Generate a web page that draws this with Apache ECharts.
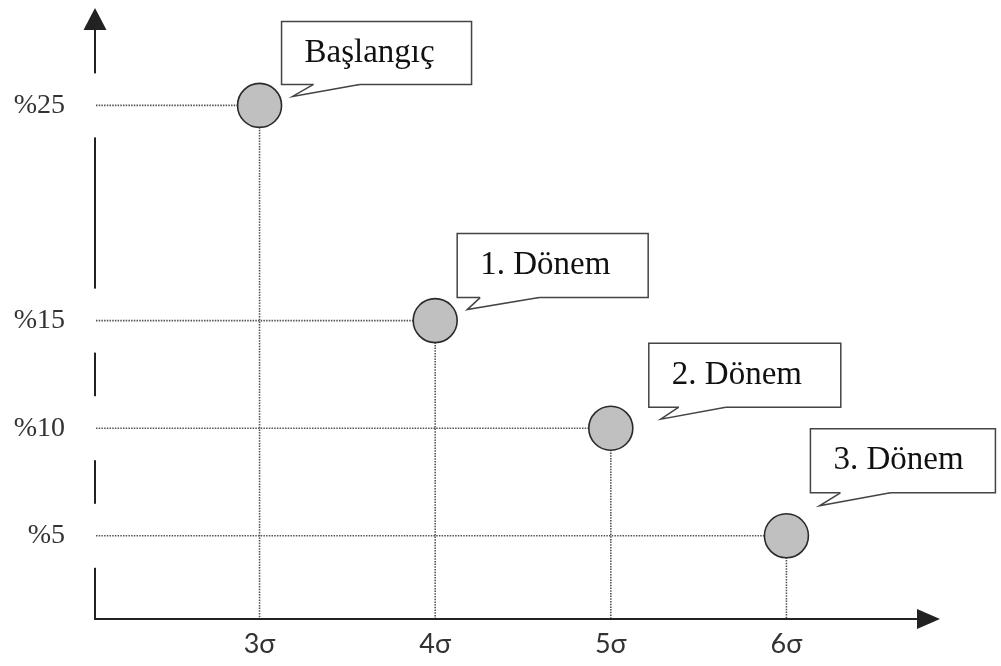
<!DOCTYPE html>
<html><head><meta charset="utf-8">
<script src="https://cdn.jsdelivr.net/npm/echarts@6/dist/echarts.min.js"></script>
<style>html,body{margin:0;padding:0;background:#fff}#c{width:1001px;height:666px}</style>
</head><body><div id="c"></div>
<script>
// ---- data ----
const sigmaLevels = [3, 4, 5, 6];
const xTickLabels = ['3σ', '4σ', '5σ', '6σ'];
const defectRates = [25, 15, 10, 5];
const yTickValues = [5, 10, 15, 25];
const phaseNames = ['Başlangıç', '1. Dönem', '2. Dönem', '3. Dönem'];

// ---- layout / style (pixel offsets of each callout relative to its point) ----
const calloutLayout = [
  {bx: 22, by: -84, w: 190, h: 63, tx: 33, ty: -9, b1: 32, b2: 78},
  {bx: 22, by: -87, w: 191, h: 64, tx: 32, ty: -11, b1: 23, b2: 82},
  {bx: 38, by: -85, w: 192, h: 64, tx: 50, ty: -9, b1: 30, b2: 77},
  {bx: 24, by: -107, w: 185, h: 64, tx: 33, ty: -30, b1: 30, b2: 80}
];
const X_MIN = 2.063, X_MAX = 6.809, Y_MIN = 1.134, Y_MAX = 29.015;

const chart = echarts.init(document.getElementById('c'), null, {renderer: 'canvas'});

function renderGap(params, api) {
  const p = api.coord([X_MIN, api.value(0)]);
  const cs = params.coordSys;
  return {type: 'rect', shape: {x: cs.x - 4, y: p[1] - 32, width: 8, height: 64},
          style: {fill: '#fff'}};
}

function renderPoint(params, api) {
  const i = params.dataIndex;
  const p = api.coord([api.value(0), api.value(1)]);
  const cs = params.coordSys;
  const axisX = cs.x, axisY = cs.y + cs.height;
  const L = calloutLayout[i];
  const dot = {stroke: '#555', lineWidth: 1.6, lineDash: [1.5, 1.2], fill: 'none'};
  const bx = p[0] + L.bx, by = p[1] + L.by, bottom = by + L.h;
  const tip = [p[0] + L.tx, p[1] + L.ty];
  return {type: 'group', children: [
    {type: 'line', shape: {x1: axisX + 1, y1: p[1], x2: p[0], y2: p[1]}, style: dot},
    {type: 'line', shape: {x1: p[0], y1: p[1], x2: p[0], y2: axisY - 1}, style: dot},
    {type: 'circle', shape: {cx: p[0], cy: p[1], r: 22},
     style: {fill: '#c0c0c0', stroke: '#2a2a2a', lineWidth: 1.6}},
    {type: 'rect', shape: {x: bx, y: by, width: L.w, height: L.h},
     style: {fill: '#fff', stroke: '#444', lineWidth: 1.5}},
    {type: 'polygon', shape: {points: [[bx + L.b1, bottom - 2], [bx + L.b1, bottom], tip, [bx + L.b2, bottom], [bx + L.b2, bottom - 2]]},
     style: {fill: '#fff'}},
    {type: 'polyline', shape: {points: [[bx + L.b1, bottom], tip, [bx + L.b2, bottom]]},
     style: {fill: 'none', stroke: '#444', lineWidth: 1.5}},
    {type: 'text', style: {x: bx + 23, y: by + L.h / 2, text: phaseNames[i], fill: '#111',
      font: '33px "Liberation Serif"', verticalAlign: 'middle', align: 'left'}}
  ]};
}

function findIdx(arr, v) {
  for (let k = 0; k < arr.length; k++) if (Math.abs(arr[k] - v) < 1e-6) return k;
  return -1;
}

chart.setOption({
  animation: false,
  backgroundColor: '#fff',
  grid: {left: 95, top: 19, right: 72.5, bottom: 47, containLabel: false},
  xAxis: {
    type: 'value', min: X_MIN, max: X_MAX,
    axisLine: {show: true, onZero: false, symbol: ['none', 'triangle'], symbolSize: [20, 23],
               lineStyle: {color: '#222', width: 2}},
    axisTick: {show: false},
    splitLine: {show: false},
    axisLabel: {customValues: sigmaLevels, margin: 12, color: '#333', fontFamily: 'Lato', fontSize: 27,
      formatter: v => { const k = findIdx(sigmaLevels, v); return k < 0 ? '' : xTickLabels[k]; }}
  },
  yAxis: {
    type: 'value', min: Y_MIN, max: Y_MAX,
    axisLine: {show: true, onZero: false, symbol: ['none', 'triangle'], symbolSize: [23, 22],
               lineStyle: {color: '#222', width: 2}},
    axisTick: {show: false},
    splitLine: {show: false},
    axisLabel: {customValues: yTickValues, margin: 30, color: '#333', fontFamily: 'Liberation Serif', fontSize: 28,
      formatter: v => { const k = findIdx(yTickValues, v); return k < 0 ? '' : '%' + yTickValues[k]; }}
  },
  series: [
    {type: 'custom', name: 'gaps', silent: true, renderItem: renderGap,
     encode: {y: 0}, data: yTickValues.map(v => [v]), z: 2},
    {type: 'custom', name: 'phases', silent: true, renderItem: renderPoint,
     encode: {x: 0, y: 1}, data: sigmaLevels.map((s, k) => [s, defectRates[k]]), z: 3}
  ]
});
</script></body></html>
